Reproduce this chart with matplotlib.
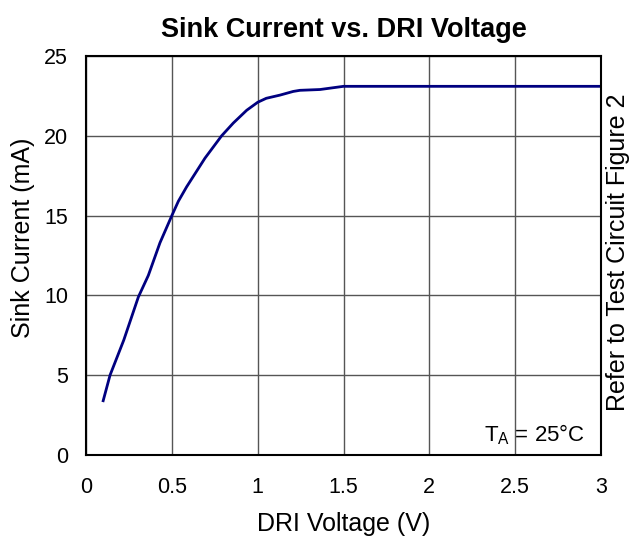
import matplotlib
matplotlib.use("Agg")
import matplotlib.pyplot as plt

voltage = [0.1, 0.14, 0.22, 0.305, 0.363, 0.431, 0.5, 0.538, 0.586, 0.693, 0.79, 0.858,
           0.936, 1.0, 1.05, 1.13, 1.207, 1.246, 1.363, 1.5, 2.0, 2.5, 3.0]
current = [3.4, 5.0, 7.2, 9.9, 11.25, 13.3, 15.0, 15.9, 16.8, 18.6, 20.0, 20.8,
           21.6, 22.1, 22.35, 22.55, 22.78, 22.85, 22.9, 23.1, 23.1, 23.1, 23.1]
xticks = [0, 0.5, 1, 1.5, 2, 2.5, 3]
xticklabels = ["0", "0.5", "1", "1.5", "2", "2.5", "3"]
yticks = [0, 5, 10, 15, 20, 25]

plt.rcParams['font.family'] = ['Liberation Sans', 'DejaVu Sans']

fig = plt.figure(figsize=(6.31, 5.38), dpi=100)
ax = fig.add_axes([0.1363, 0.1543, 0.8162, 0.7416])
ax.plot(voltage, current, color='#000080', lw=2)
ax.set_xlim(0, 3)
ax.set_ylim(0, 25)
ax.set_xticks(xticks)
ax.set_xticklabels(xticklabels)
ax.set_yticks(yticks)
ax.grid(True, color='#555555', lw=1)
ax.tick_params(length=0, labelsize=15.5)
ax.tick_params(axis='x', pad=16)
ax.tick_params(axis='y', pad=13)
for s in ax.spines.values():
    s.set_linewidth(1.5)
    s.set_color('black')
ax.set_xlabel('DRI Voltage (V)', fontsize=18, labelpad=10)
ax.set_ylabel('Sink Current (mA)', fontsize=18)
ax.yaxis.set_label_coords(-0.100, 0.544)
ax.set_title('Sink Current vs. DRI Voltage', fontsize=19.5, fontweight='bold', pad=14)
ax.text(2.905, 1.25, r'T$_\mathregular{A}$ = 25°C', fontsize=16, ha='right', va='center')
fig.text(0.979, 0.532, 'Refer to Test Circuit Figure 2', rotation=90, fontsize=18,
         ha='center', va='center')
fig.savefig('out.png', dpi=100)
